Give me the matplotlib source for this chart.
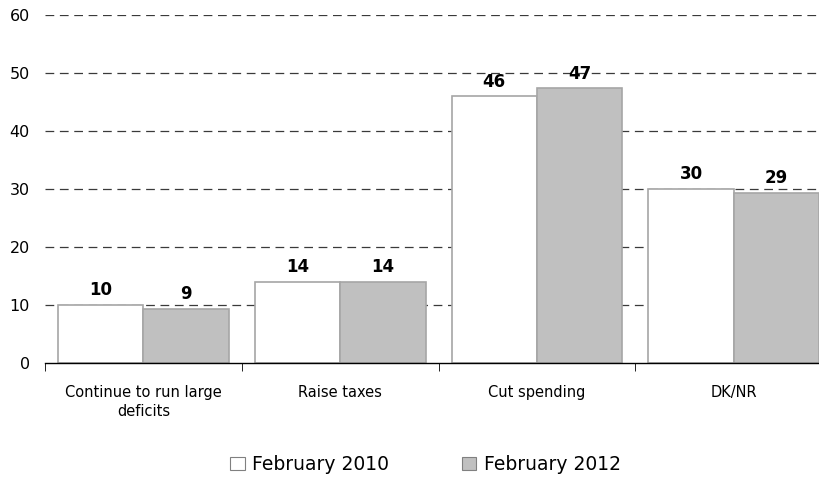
import numpy as np
import matplotlib.pyplot as plt
from matplotlib.patches import Patch

# Survey responses, percent
categories = ["Continue to run large\ndeficits", "Raise taxes", "Cut spending", "DK/NR"]
feb_2010 = [10, 14, 46, 30]
feb_2012 = [9.4, 14, 47.4, 29.4]
series_names = ["February 2010", "February 2012"]
yticks = [0, 10, 20, 30, 40, 50, 60]

plt.rcParams['font.family'] = ['DejaVu Sans']

fig = plt.figure(figsize=(8.2, 4.83), dpi=100)
ax = fig.add_axes([0.0549, 0.2484, 0.96, 0.7205])

x = np.arange(len(categories))
w = 0.434
edge = '#a6a6a6'
b1 = ax.bar(x - w / 2, feb_2010, w, color='white', edgecolor=edge, linewidth=1.2, zorder=3)
b2 = ax.bar(x + w / 2, feb_2012, w, color='#c0c0c0', edgecolor=edge, linewidth=1.2, zorder=3)

for bars, vals in ((b1, feb_2010), (b2, feb_2012)):
    for rect, v in zip(bars, vals):
        ax.annotate(f"{v:.0f}", (rect.get_x() + rect.get_width() / 2, v),
                    xytext=(0, 4), textcoords='offset points',
                    ha='center', va='bottom', fontsize=12, fontweight='bold', zorder=4)

ax.set_xlim(-0.5, len(categories) - 0.5)
ax.set_ylim(0, 60)
ax.set_yticks(yticks)
for y in yticks[1:]:
    ax.axhline(y, color='#3a3a3a', linestyle=(0, (7, 4.5)), linewidth=0.9, zorder=1)

ax.set_xticks(x)
ax.set_xticklabels(categories, fontsize=10.5, linespacing=1.35)
ax.tick_params(axis='x', length=0, pad=16)
ax.set_xticks(np.arange(len(categories) + 1) - 0.5, minor=True)
ax.tick_params(axis='x', which='minor', length=6, direction='out', color='black')
ax.tick_params(axis='y', length=0, labelsize=11.5, pad=11)

for s in ('top', 'right', 'left'):
    ax.spines[s].set_visible(False)
ax.spines['bottom'].set_color('black')
ax.spines['bottom'].set_linewidth(1.0)
ax.spines['bottom'].set_zorder(5)

handles = [Patch(facecolor='white', edgecolor='#808080', linewidth=0.8),
           Patch(facecolor='#c0c0c0', edgecolor='#808080', linewidth=0.8)]
fig.legend(handles, series_names, loc='center', bbox_to_anchor=(0.519, 0.038),
           ncol=2, frameon=False, fontsize=13.5, handlelength=0.75, handleheight=0.75,
           handletextpad=0.4, columnspacing=3.9)

fig.savefig('out.png', dpi=100)
